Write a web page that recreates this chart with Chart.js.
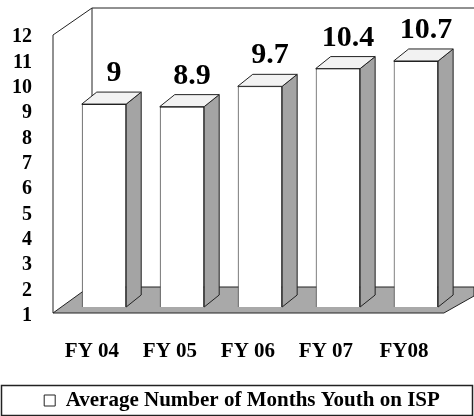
<!DOCTYPE html>
<html>
<head>
<meta charset="utf-8">
<script src="https://cdn.jsdelivr.net/npm/chart.js@4.4.1/dist/chart.umd.min.js"></script>
<style>
  html, body { margin: 0; padding: 0; background: #fff; }
  #wrap { width: 474px; height: 416px; }
</style>
</head>
<body>
<div id="wrap"><canvas id="ispChart" width="474" height="416"></canvas></div>
<script>
const years = ['FY 04', 'FY 05', 'FY 06', 'FY 07', 'FY08'];
const avgMonths = [9, 8.9, 9.7, 10.4, 10.7];
const yTicks = [1, 2, 3, 4, 5, 6, 7, 8, 9, 10, 11, 12];
const seriesName = 'Average Number of Months Youth on ISP';

const serif = "'Liberation Serif', 'Times New Roman', serif";
Chart.defaults.color = '#000';
Chart.defaults.font.family = serif;
Chart.defaults.font.weight = 'bold';

// depth of the bars (oblique projection)
const DX = 15, DY = 12;
const sideGray = '#a4a4a4';
const floorGray = '#a9a9a9';

const frame3d = {
    id: 'frame3d',
    beforeDatasetsDraw(chart) {
        const c = chart.ctx, a = chart.chartArea;
        const fx = a.left - 12, fTop = a.top + 7, fBot = a.bottom + 6;
        const bx = fx + 39, bTop = fTop - 27, floorBack = fBot - 26;
        c.save();
        c.strokeStyle = '#222';
        c.lineWidth = 1;
        // floor
        c.beginPath();
        c.moveTo(fx, fBot);
        c.lineTo(fx + 36, floorBack);
        c.lineTo(chart.width, floorBack);
        c.lineTo(chart.width, floorBack + 9);
        c.lineTo(a.right - 11, fBot);
        c.closePath();
        c.fillStyle = floorGray;
        c.fill();
        c.stroke();
        // walls
        c.beginPath();
        c.moveTo(fx, fBot);
        c.lineTo(fx, fTop);
        c.lineTo(bx, bTop);
        c.lineTo(chart.width, bTop);
        c.moveTo(bx, bTop);
        c.lineTo(bx, floorBack);
        c.stroke();
        c.restore();
    },
    afterDatasetsDraw(chart) {
        const c = chart.ctx;
        const meta = chart.getDatasetMeta(0);
        c.save();
        c.strokeStyle = '#222';
        c.lineWidth = 1;
        meta.data.forEach((bar, i) => {
            const L = bar.x - bar.width / 2, R = bar.x + bar.width / 2;
            const top = bar.y, base = Math.min(bar.base, chart.chartArea.bottom);
            // side
            c.beginPath();
            c.moveTo(R, top);
            c.lineTo(R + DX, top - DY);
            c.lineTo(R + DX, base - DY);
            c.lineTo(R, base);
            c.closePath();
            c.fillStyle = sideGray;
            c.fill();
            c.stroke();
            // top
            c.beginPath();
            c.moveTo(L, top);
            c.lineTo(L + DX, top - DY);
            c.lineTo(R + DX, top - DY);
            c.lineTo(R, top);
            c.closePath();
            c.fillStyle = '#f2f2f2';
            c.fill();
            c.stroke();
            // value label
            c.fillStyle = '#000';
            c.font = 'bold 30px ' + serif;
            c.textAlign = 'center';
            c.textBaseline = 'alphabetic';
            c.fillText(String(avgMonths[i]), bar.x + 10, top - DY - 11);
        });
        c.restore();
    },
    afterDraw(chart) {
        const hb = chart.legend.legendHitBoxes[0];
        if (!hb) return;
        const c = chart.ctx;
        const cy = hb.top + hb.height / 2;
        c.save();
        c.strokeStyle = '#222';
        c.lineWidth = 1.5;
        c.strokeRect(1.5, cy - 15, chart.width - 3, 30);
        c.restore();
    }
};

new Chart(document.getElementById('ispChart'), {
    type: 'bar',
    data: {
        labels: years,
        datasets: [{
            label: seriesName,
            data: avgMonths,
            backgroundColor: '#fff',
            borderColor: '#222',
            borderWidth: 1,
            barPercentage: 0.95,
            categoryPercentage: 0.6
        }]
    },
    options: {
        responsive: false,
        animation: false,
        layout: { padding: { top: 28, right: 0, left: 10, bottom: -5 } },
        scales: {
            x: {
                grid: { display: false, drawTicks: false },
                border: { display: false },
                ticks: { padding: 32, labelOffset: -12, font: { size: 21, weight: 'bold' } },
                afterFit(scale) { scale.height = 83; }
            },
            y: {
                min: 1,
                max: 12,
                afterBuildTicks(scale) { scale.ticks = yTicks.map(v => ({ value: v })); },
                grid: { display: false, drawTicks: false },
                border: { display: false },
                ticks: { autoSkip: false, padding: 33, labelOffset: 9, font: { size: 20, weight: 'bold' } },
                afterFit(scale) {
                    scale.width = 55;
                    scale.paddingTop = 0;
                    scale.paddingBottom = 0;
                }
            },
            yRight: {
                position: 'right',
                grid: { display: false, drawTicks: false },
                border: { display: false },
                ticks: { display: false },
                afterFit(scale) { scale.width = 16; }
            }
        },
        plugins: {
            legend: {
                position: 'bottom',
                labels: {
                    boxWidth: 11,
                    boxHeight: 11,
                    padding: 0,
                    font: { size: 21, weight: 'bold' }
                }
            },
            tooltip: { enabled: false }
        }
    },
    plugins: [frame3d]
});
</script>
</body>
</html>
